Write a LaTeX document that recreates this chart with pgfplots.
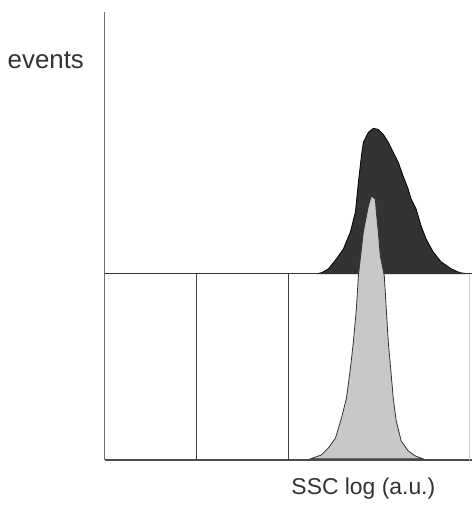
\documentclass[border=0pt]{standalone}
\usepackage{pgfplots}
\pgfplotsset{compat=1.18}
\usepackage{fontspec}
\setmainfont{Liberation Sans}
\definecolor{darkhist}{HTML}{333333}
\definecolor{lighthist}{HTML}{C8C8C8}
\definecolor{axisgray}{HTML}{707070}

\begin{document}
\begin{tikzpicture}
\begin{axis}[
    scale only axis,
    width=237pt, height=253pt,
    xmin=0, xmax=474,
    ymin=0, ymax=506,
    y dir=reverse,
    hide axis,
    clip=false,
  ]
  % keep the page the size of the reference
  \path (axis cs:0,0) rectangle (axis cs:474,506);

  % upper histogram (dark), baseline at 275
  \addplot[draw=black, line width=0.4pt, fill=darkhist] coordinates {
    (318,275) (323,274) (330,270) (338,260) (345,250) (352,233) (357,213)
    (360,183) (363,157) (365,143) (370,133) (375,129) (380,130) (385,135)
    (390,143) (395,153) (400,163) (405,177) (410,190) (413,200) (418,210)
    (423,227) (428,240) (435,253) (443,263) (453,270) (462,274) (470,275)
  } -- cycle;

  % frame lines
  \addplot[axisgray, line width=0.8pt] coordinates {(105,12) (105,462)};
  \addplot[black!80, line width=0.7pt] coordinates {(105,275) (474,275)};
  \addplot[black!70, line width=0.7pt] coordinates {(105,462) (474,462)};
  \addplot[black!75, line width=0.5pt] coordinates {(197,275) (197,462)};
  \addplot[black!75, line width=0.5pt] coordinates {(290,275) (290,462)};
  \addplot[black!20, line width=0.5pt] coordinates {(472,275) (472,462)};

  % lower histogram (light), baseline at 461
  \addplot[draw=black!80, line width=0.4pt, fill=lighthist] coordinates {
    (312,461) (323,457) (330,450) (337,440) (343,420) (348,400) (352,370)
    (355,343) (358,310) (360,277) (365,233) (370,207) (373,197) (377,200)
    (378,213) (380,233) (382,257) (386,277) (388,310) (390,343) (393,377)
    (395,400) (398,423) (403,443) (410,453) (417,458) (425,461)
  } -- cycle;

  \node[font=\fontsize{13}{15}\selectfont, text=black!80] at (axis cs:46,61) {events};
  \node[font=\fontsize{11.5}{14}\selectfont, text=black!80] at (axis cs:365,491) {SSC log (a.u.)};
\end{axis}
\end{tikzpicture}
\end{document}
